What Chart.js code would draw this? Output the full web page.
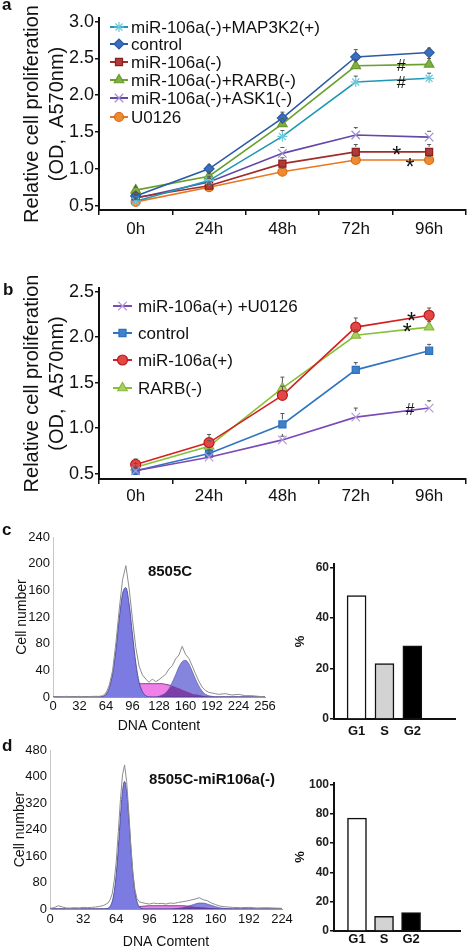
<!DOCTYPE html>
<html>
<head>
<meta charset="utf-8">
<script src="https://cdn.jsdelivr.net/npm/chart.js@4.4.1/dist/chart.umd.min.js"></script>
<style>
  body { margin: 0; background: #fff; }
  #page { position: relative; width: 473px; height: 951px; overflow: hidden; font-family: "Liberation Sans", Arial, sans-serif; }
  .box { position: absolute; }
  .tag { position: absolute; font-weight: bold; font-size: 17px; line-height: 17px; color: #111; }
</style>
</head>
<body>
<div id="page">
  <div class="box" style="left:0;top:0;width:473px;height:250px"><canvas id="chartA"></canvas></div>
  <div class="box" style="left:0;top:250px;width:473px;height:260px"><canvas id="chartB"></canvas></div>
  <div class="box" style="left:0;top:525px;width:285px;height:210px"><canvas id="histC"></canvas></div>
  <div class="box" style="left:0;top:735px;width:300px;height:216px"><canvas id="histD"></canvas></div>
  <div class="box" style="left:285px;top:550px;width:188px;height:195px"><canvas id="barsC"></canvas></div>
  <div class="box" style="left:285px;top:770px;width:188px;height:181px"><canvas id="barsD"></canvas></div>
  <div class="tag" style="left:2px;top:-4px">a</div>
  <div class="tag" style="left:3px;top:281px">b</div>
  <div class="tag" style="left:2px;top:521px">c</div>
  <div class="tag" style="left:2px;top:737px">d</div>
</div>
<script>
// ---- panel a / b: proliferation curves ----
const hours = ['0h', '24h', '48h', '72h', '96h'];
const aTicks = [0.5, 1.0, 1.5, 2.0, 2.5, 3.0];
const bTicks = [0.5, 1.0, 1.5, 2.0, 2.5];

const aMap3k2 = [0.56, 0.84, 1.44, 2.18, 2.23];
const aControl = [0.63, 1.00, 1.69, 2.52, 2.58];
const aMir = [0.61, 0.77, 1.07, 1.23, 1.23];
const aRarb = [0.71, 0.90, 1.61, 2.40, 2.42];
const aAsk1 = [0.60, 0.82, 1.21, 1.46, 1.43];
const aU0126 = [0.55, 0.75, 0.96, 1.12, 1.12];

const aErrMap3k2 = [0.04, 0.05, 0.08, 0.08, 0.07];
const aErrControl = [0.05, 0.05, 0.08, 0.10, 0.06];
const aErrMir = [0.04, 0.05, 0.08, 0.10, 0.10];
const aErrRarb = [0.04, 0.05, 0.07, 0.08, 0.08];
const aErrAsk1 = [0.04, 0.05, 0.08, 0.10, 0.08];
const aErrU0126 = [0.03, 0.04, 0.05, 0.05, 0.05];

const bU0126 = [0.53, 0.68, 0.87, 1.12, 1.22];
const bControl = [0.53, 0.72, 1.04, 1.64, 1.85];
const bMir = [0.60, 0.84, 1.36, 2.11, 2.24];
const bRarb = [0.57, 0.80, 1.44, 2.02, 2.11];

const bErrU0126 = [0.03, 0.04, 0.04, 0.10, 0.08];
const bErrControl = [0.03, 0.04, 0.12, 0.08, 0.07];
const bErrMir = [0.06, 0.09, 0.10, 0.10, 0.08];
const bErrRarb = [0.04, 0.06, 0.12, 0.06, 0.06];

// ---- panel c / d: DNA content histograms ----
const cBins = [0, 8, 16, 24, 32, 40, 48, 56,
  60, 64, 68, 72, 76, 80, 84, 88, 92, 96,
  100, 104, 108, 112, 116, 120, 124, 128, 132, 136,
  140, 144, 148, 152, 156, 160, 164, 168, 172, 176,
  180, 184, 188, 192, 196, 200,
  208, 216, 224, 232, 240, 248, 256];
const cRaw = [0, 0, 1, 0, 1, 0, 1, 1,
  2, 6, 18, 40, 82, 132, 176, 197, 162, 116,
  74, 46, 33, 27, 22, 27, 23, 26, 30, 34,
  42, 47, 57, 63, 76, 64, 58, 47, 35, 24,
  15, 10, 7, 6, 5, 4,
  5, 3, 4, 2, 2, 1, 0];
const cG1 = [0, 0, 0, 0, 0, 0, 0, 0,
  1, 4, 14, 35, 71, 118, 155, 164, 139, 94,
  51, 22, 8, 2, 0, 0, 0, 0, 0, 0,
  0, 0, 0, 0, 0, 0, 0, 0, 0, 0,
  0, 0, 0, 0, 0, 0,
  0, 0, 0, 0, 0, 0, 0];
const cS = [0, 0, 0, 0, 0, 0, 0, 0,
  0, 0, 0, 1, 3, 6, 10, 13, 16, 18,
  20, 20, 20, 20, 20, 20, 20, 20, 20, 19,
  18, 17, 15, 13, 11, 9, 7, 5, 4, 3,
  2, 1, 0.5, 0, 0, 0,
  0, 0, 0, 0, 0, 0, 0];
const cG2 = [0, 0, 0, 0, 0, 0, 0, 0,
  0, 0, 0, 0, 0, 0, 0, 0, 0, 0,
  0, 0, 0, 0, 0, 0, 0, 1, 3, 6,
  12, 22, 33, 45, 53, 55, 50, 39, 27, 17,
  9, 4, 2, 1, 0, 0,
  0, 0, 0, 0, 0, 0, 0];
const cOverlap = [0, 0, 0, 0, 0, 0, 0, 0,
  0, 0, 0, 0, 0, 0, 0, 0, 0, 0,
  0, 0, 0, 0, 0, 0, 0, 1, 3, 6,
  12, 17, 15, 13, 11, 9, 7, 5, 4, 3,
  2, 1, 0.5, 0, 0, 0,
  0, 0, 0, 0, 0, 0, 0];
const cXTicks = [0, 32, 64, 96, 128, 160, 192, 224, 256];
const cYTicks = [0, 40, 80, 120, 160, 200, 240];

const dBins = [0, 4, 8, 12, 16, 20, 24, 28, 32, 36, 40, 44, 48, 52,
  56, 58, 60, 62, 64, 66, 68, 70, 72, 74, 76, 78, 80, 82, 84, 86, 88,
  92, 96, 100, 104, 108, 112, 116, 120, 124, 128, 132, 136, 140, 144, 148, 152, 156, 160, 164, 168, 172, 176,
  184, 192, 200, 208, 216, 224];
const dRaw = [2, 4, 10, 6, 3, 3, 4, 3, 5, 4, 5, 6, 8, 11,
  18, 28, 45, 85, 145, 235, 330, 405, 435, 385, 295, 195, 112, 58, 32, 22, 20,
  17, 15, 18, 16, 17, 15, 18, 17, 20, 22, 24, 27, 30, 34, 28, 25, 18, 13, 9, 7, 6, 5,
  4, 5, 3, 4, 3, 2];
const dG1 = [0, 0, 0, 0, 0, 0, 0, 0, 0, 0, 0, 0, 0, 0,
  2, 8, 22, 52, 107, 187, 280, 355, 385, 355, 280, 187, 107, 52, 22, 8, 2,
  0, 0, 0, 0, 0, 0, 0, 0, 0, 0, 0, 0, 0, 0, 0, 0, 0, 0, 0, 0, 0, 0,
  0, 0, 0, 0, 0, 0];
const dS = [0, 0, 0, 0, 0, 0, 0, 0, 0, 0, 0, 0, 0, 0,
  0, 0, 0, 0, 0, 0, 0, 1, 1, 2, 2, 3, 4, 5, 6, 7, 8,
  9, 10, 10, 10, 10, 10, 10, 10, 10, 10, 9, 8, 7, 6, 5, 4, 3, 2, 1, 0, 0, 0,
  0, 0, 0, 0, 0, 0];
const dG2 = [0, 0, 0, 0, 0, 0, 0, 0, 0, 0, 0, 0, 0, 0,
  0, 0, 0, 0, 0, 0, 0, 0, 0, 0, 0, 0, 0, 0, 0, 0, 0,
  0, 0, 0, 0, 0, 0, 0, 1, 2, 4, 7, 11, 15, 18, 18, 15, 11, 7, 4, 2, 1, 0,
  0, 0, 0, 0, 0, 0];
const dOverlap = [0, 0, 0, 0, 0, 0, 0, 0, 0, 0, 0, 0, 0, 0,
  0, 0, 0, 0, 0, 0, 0, 0, 0, 0, 0, 0, 0, 0, 0, 0, 0,
  0, 0, 0, 0, 0, 0, 0, 1, 2, 4, 7, 8, 7, 6, 5, 4, 3, 2, 1, 0, 0, 0,
  0, 0, 0, 0, 0, 0];
const dXTicks = [0, 32, 64, 96, 128, 160, 192, 224];
const dYTicks = [0, 80, 160, 240, 320, 400, 480];

// ---- cell cycle phase bars ----
const phases = ['G1', 'S', 'G2'];
const phaseColors = ['#ffffff', '#d3d3d3', '#000000'];
const cPhaseVals = [49, 22, 29];
const dPhaseVals = [77, 10, 12.5];
const cBarTicks = [0, 20, 40, 60];
const dBarTicks = [0, 20, 40, 60, 80, 100];

Chart.defaults.font.family = '"Liberation Sans", Arial, sans-serif';
Chart.defaults.color = '#111';

const pts = (bins, vals) => bins.map((x, i) => ({ x, y: vals[i] }));

// error bars, inline legend and the # / * marks
const extras = {
  id: 'extras',
  afterDatasetsDraw(chart, args, opts) {
    const ctx = chart.ctx;
    const y = chart.scales.y;
    chart.data.datasets.forEach((ds, di) => {
      if (!ds.errors) return;
      const meta = chart.getDatasetMeta(di);
      ctx.save();
      ctx.strokeStyle = '#555';
      ctx.lineWidth = 1;
      meta.data.forEach((pt, i) => {
        const top = y.getPixelForValue(ds.data[i] + ds.errors[i]);
        ctx.beginPath();
        ctx.moveTo(pt.x, pt.y - ds.pointRadius);
        ctx.lineTo(pt.x, top);
        ctx.moveTo(pt.x - 2, top);
        ctx.lineTo(pt.x + 2, top);
        ctx.stroke();
      });
      ctx.restore();
    });
  },
  afterDraw(chart, args, opts) {
    const ctx = chart.ctx;
    if (opts.legend) {
      const L = opts.legend;
      L.order.forEach((di, k) => {
        const ds = chart.data.datasets[di];
        const yy = L.rows[k];
        ctx.save();
        ctx.strokeStyle = ds.borderColor;
        ctx.lineWidth = 2;
        ctx.beginPath();
        ctx.moveTo(L.x0, yy);
        ctx.lineTo(L.x1, yy);
        ctx.stroke();
        ctx.fillStyle = ds.pointBackgroundColor;
        ctx.strokeStyle = ds.pointBorderColor;
        ctx.lineWidth = ds.pointBorderWidth;
        Chart.helpers.drawPoint(ctx, {
          pointStyle: ds.pointStyle, radius: ds.pointRadius,
          borderWidth: ds.pointBorderWidth, rotation: 0
        }, (L.x0 + L.x1) / 2, yy);
        ctx.fillStyle = '#111';
        ctx.font = L.font;
        ctx.textAlign = 'left';
        ctx.textBaseline = 'middle';
        ctx.fillText(ds.label, L.textX, yy + 1);
        ctx.restore();
      });
    }
    if (opts.marks) {
      const xs = chart.scales.x, ys = chart.scales.y;
      opts.marks.forEach(m => {
        ctx.save();
        ctx.fillStyle = '#111';
        ctx.font = m.font;
        ctx.textAlign = 'center';
        ctx.textBaseline = 'middle';
        ctx.fillText(m.text, xs.getPixelForValue(m.x), ys.getPixelForValue(m.y) + (m.dy || 0));
        ctx.restore();
      });
    }
  }
};

function growthSet(label, values, errors, line, fill, border, style, radius) {
  return {
    label,
    data: values,
    errors,
    borderColor: line,
    borderWidth: 1.6,
    pointStyle: style,
    pointRadius: radius,
    pointBackgroundColor: fill,
    pointBorderColor: border,
    pointBorderWidth: 1.2,
    tension: 0
  };
}

function renderGrowthChart(canvasId, datasets, cfg) {
  const ctx = document.getElementById(canvasId);
  return new Chart(ctx, {
    type: 'line',
    data: { labels: hours, datasets },
    options: {
      responsive: true,
      maintainAspectRatio: false,
      animation: false,
      events: [],
      layout: { padding: { top: cfg.padTop, right: 0, left: 0, bottom: 0 } },
      plugins: {
        legend: { display: false },
        tooltip: { enabled: false },
        extras: { legend: cfg.legend, marks: cfg.marks }
      },
      scales: {
        x: {
          offset: true,
          grid: { offset: true, drawOnChartArea: false, drawTicks: true, tickLength: 5, color: '#111', lineWidth: 1.5 },
          border: { display: true, color: '#111', width: 2 },
          ticks: { font: { size: 17 }, color: '#111', padding: cfg.xPad, maxRotation: 0 },
          afterFit: s => { s.height = cfg.xHeight; }
        },
        y: {
          min: cfg.min,
          max: cfg.max,
          afterBuildTicks: s => { s.ticks = cfg.ticks.map(v => ({ value: v })); },
          grid: { drawOnChartArea: false, drawTicks: true, tickLength: 4, color: '#111', lineWidth: 1.5 },
          border: { display: true, color: '#111', width: 2 },
          ticks: { font: { size: 18 }, color: '#111', padding: 1, callback: v => v.toFixed(1) },
          title: {
            display: true,
            text: ['Relative cell proliferation', '(OD,  A570nm)'],
            font: { size: 20, lineHeight: 1.25 },
            color: '#111',
            padding: { top: 20, bottom: 0 }
          },
          afterFit: s => { s.width = 99; }
        }
      }
    },
    plugins: [extras]
  });
}

renderGrowthChart('chartA', [
  growthSet('miR-106a(-)+MAP3K2(+)', aMap3k2, aErrMap3k2, '#1e98b4', '#8fdcea', '#6cc8dc', 'star', 5),
  growthSet('control', aControl, aErrControl, '#2b5aa6', '#3a6fc0', '#2b5aa6', 'rectRot', 5),
  growthSet('miR-106a(-)', aMir, aErrMir, '#a02c2c', '#b03a3a', '#8a2020', 'rect', 5),
  growthSet('miR-106a(-)+RARB(-)', aRarb, aErrRarb, '#6aa12c', '#7fb040', '#6a9a30', 'triangle', 5.5),
  growthSet('miR-106a(-)+ASK1(-)', aAsk1, aErrAsk1, '#6447a8', '#b8a2dc', '#a08ccc', 'crossRot', 6),
  growthSet('U0126', aU0126, aErrU0126, '#e8771f', '#f08a30', '#d86a10', 'circle', 4.5)
], {
  padTop: 18, xHeight: 40, xPad: 4, min: 0.44, max: 3.05, ticks: aTicks,
  legend: { order: [0, 1, 2, 3, 4, 5], rows: [27, 44, 62, 80, 98, 117], x0: 110, x1: 128, textX: 131, font: '17px "Liberation Sans", Arial, sans-serif' },
  marks: [
    { x: 3.62, y: 2.39, text: '#', font: '16px "Liberation Sans", Arial' },
    { x: 3.62, y: 2.165, text: '#', font: '16px "Liberation Sans", Arial' },
    { x: 3.56, y: 1.24, text: '*', font: '23px "Liberation Sans", Arial', dy: 6 },
    { x: 3.74, y: 1.086, text: '*', font: '23px "Liberation Sans", Arial', dy: 6 }
  ]
});

renderGrowthChart('chartB', [
  growthSet('miR-106a(+) +U0126', bU0126, bErrU0126, '#7a4ab8', '#b59ad8', '#b59ad8', 'crossRot', 6),
  growthSet('control', bControl, bErrControl, '#2f75c0', '#3d82cc', '#2f70b8', 'rect', 5),
  growthSet('miR-106a(+)', bMir, bErrMir, '#d42020', '#e04848', '#c01818', 'circle', 5),
  growthSet('RARB(-)', bRarb, bErrRarb, '#88c038', '#a8d060', '#88b838', 'triangle', 5.5)
], {
  padTop: 38, xHeight: 31, xPad: 2, min: 0.44, max: 2.54, ticks: bTicks,
  legend: { order: [0, 1, 2, 3], rows: [56, 83, 110, 138], x0: 113, x1: 132, textX: 138, font: '17px "Liberation Sans", Arial, sans-serif' },
  marks: [
    { x: 3.76, y: 2.225, text: '*', font: '23px "Liberation Sans", Arial', dy: 6 },
    { x: 3.70, y: 2.10, text: '*', font: '23px "Liberation Sans", Arial', dy: 6 },
    { x: 3.74, y: 1.197, text: '#', font: '16px "Liberation Sans", Arial' }
  ]
});

function renderHistChart(canvasId, bins, raw, g1, s, g2, overlap, cfg) {
  const ctx = document.getElementById(canvasId);
  const fit = (vals, bg, border, width) => ({
    data: pts(bins, vals), fill: 'origin', backgroundColor: bg,
    borderColor: border, borderWidth: width, pointRadius: 0, cubicInterpolationMode: 'monotone'
  });
  return new Chart(ctx, {
    type: 'line',
    data: {
      datasets: [
        { data: pts(bins, raw), borderColor: '#8c8c8c', borderWidth: 1, pointRadius: 0, fill: false, tension: 0 },
        fit(g1, '#7b7be2', '#3c3c90', 0.8),
        fit(overlap, '#7d3fa6', 'rgba(0,0,0,0)', 0),
        fit(g2, '#8585dd', '#4a4aa0', 0.6),
        fit(s, '#ee80e8', '#5a2f5a', 0.8)
      ]
    },
    options: {
      responsive: true,
      maintainAspectRatio: false,
      animation: false,
      events: [],
      layout: { padding: { top: cfg.padTop, right: cfg.padRight, left: 0, bottom: 0 } },
      plugins: {
        legend: { display: false },
        tooltip: { enabled: false }
      },
      scales: {
        x: {
          type: 'linear',
          min: 0,
          max: cfg.xMax,
          afterBuildTicks: sc => { sc.ticks = cfg.xTicks.map(v => ({ value: v })); },
          grid: { drawOnChartArea: false, drawTicks: false },
          border: { display: true, color: '#999', width: 1 },
          ticks: { font: { size: 13 }, color: '#111', padding: cfg.xPad, autoSkip: false, maxRotation: 0 },
          title: { display: true, text: cfg.xTitle, font: { size: 14 }, color: '#111', padding: { top: 0, bottom: 0 } },
          afterFit: sc => { sc.height = cfg.xHeight; }
        },
        y: {
          min: 0,
          max: cfg.yMax,
          afterBuildTicks: sc => { sc.ticks = cfg.yTicks.map(v => ({ value: v })); },
          grid: { drawOnChartArea: false, drawTicks: false },
          border: { display: true, color: '#c8c8c8', width: 1 },
          ticks: { font: { size: 13 }, color: '#111', padding: 3 },
          title: { display: true, text: 'Cell number', font: { size: 14 }, color: '#111', padding: { top: cfg.yTitlePad, bottom: 0 } },
          afterFit: sc => { sc.width = cfg.yWidth; }
        }
      }
    },
    plugins: [{
      id: 'histTitle',
      afterDraw(chart) {
        const c = chart.ctx;
        c.save();
        c.font = 'bold 15px "Liberation Sans", Arial, sans-serif';
        c.fillStyle = '#111';
        c.textAlign = 'center';
        c.textBaseline = 'middle';
        c.fillText(cfg.title, cfg.titleX, cfg.titleY);
        c.restore();
      }
    }]
  });
}

renderHistChart('histC', cBins, cRaw, cG1, cS, cG2, cOverlap, {
  padTop: 12, padRight: 20, xHeight: 38, yWidth: 53, xPad: 2, yTitlePad: 14,
  xMax: 256, yMax: 240, xTicks: cXTicks, yTicks: cYTicks,
  xTitle: 'DNA Content', title: '8505C', titleX: 170, titleY: 47
});

renderHistChart('histD', dBins, dRaw, dG1, dS, dG2, dOverlap, {
  padTop: 15, padRight: 18, xHeight: 42, yWidth: 50, xPad: 3, yTitlePad: 12,
  xMax: 224, yMax: 480, xTicks: dXTicks, yTicks: dYTicks,
  xTitle: 'DNA Comtent', title: '8505C-miR106a(-)', titleX: 212, titleY: 45
});

function renderPhaseChart(canvasId, values, cfg) {
  const ctx = document.getElementById(canvasId);
  return new Chart(ctx, {
    type: 'bar',
    data: {
      datasets: [{
        data: values.map((v, i) => ({ x: i + 1, y: v })),
        backgroundColor: phaseColors,
        borderColor: '#111',
        borderWidth: 1.5,
        barThickness: 19
      }]
    },
    options: {
      responsive: true,
      maintainAspectRatio: false,
      animation: false,
      events: [],
      layout: { padding: { top: cfg.padTop, right: cfg.padRight, left: 0, bottom: 0 } },
      plugins: {
        legend: { display: false },
        tooltip: { enabled: false }
      },
      scales: {
        x: {
          type: 'linear',
          offset: false,
          min: cfg.xMin,
          max: cfg.xMax,
          afterBuildTicks: sc => { sc.ticks = [1, 2, 3].map(v => ({ value: v })); },
          grid: { offset: false, drawOnChartArea: false, drawTicks: false },
          border: { display: true, color: '#111', width: 2 },
          ticks: { font: { size: 13, weight: 'bold' }, color: '#111', padding: cfg.xPad, callback: v => phases[v - 1] },
          afterFit: sc => { sc.height = cfg.xHeight; }
        },
        y: {
          min: 0,
          max: cfg.yMax,
          afterBuildTicks: sc => { sc.ticks = cfg.ticks.map(v => ({ value: v })); },
          grid: { drawOnChartArea: false, drawTicks: true, tickLength: 4, color: '#111', lineWidth: 1.5 },
          border: { display: true, color: '#111', width: 2 },
          ticks: { font: { size: 12, weight: 'bold' }, color: '#222', padding: 1 },
          title: { display: true, text: '%', font: { size: 13, weight: 'bold' }, color: '#111', padding: { top: 8, bottom: 0 } },
          afterFit: sc => { sc.width = 49; }
        }
      }
    }
  });
}

renderPhaseChart('barsC', cPhaseVals, {
  padTop: 14, padRight: 18, xHeight: 26, xPad: 5, xMin: 0.19, xMax: 4.53, yMax: 61.5, ticks: cBarTicks
});

renderPhaseChart('barsD', dPhaseVals, {
  padTop: 13, padRight: 13, xHeight: 20, xPad: 1, xMin: 0.15, xMax: 4.81, yMax: 101, ticks: dBarTicks
});
</script>
</body>
</html>
